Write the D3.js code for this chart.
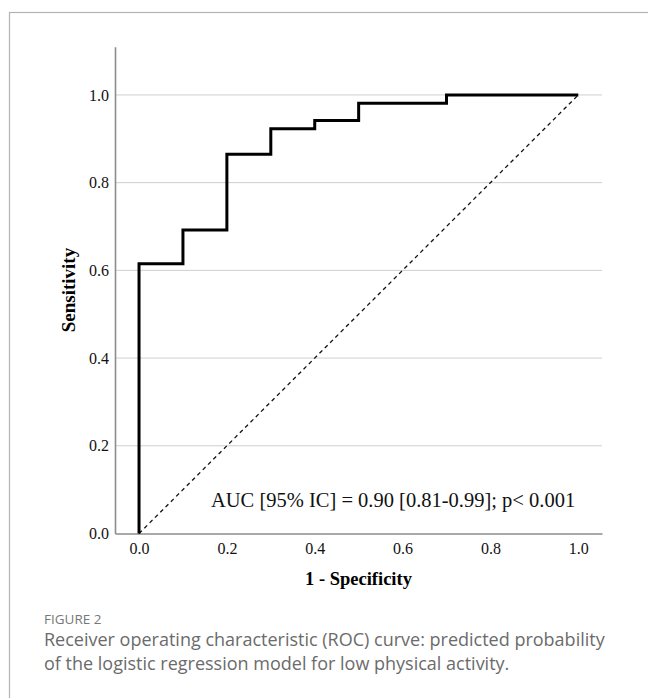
<!DOCTYPE html>
<html>
<head>
<meta charset="utf-8">
<script src="https://cdn.jsdelivr.net/npm/d3@7"></script>
<style>
  body { margin: 0; background: #fff; }
  svg { display: block; }
</style>
</head>
<body>
<div id="chart"></div>
<script>
// ROC curve points (1 - specificity, sensitivity)
const fpr = [0, 0, 0.1, 0.1, 0.2, 0.2, 0.3, 0.3, 0.4, 0.4, 0.5, 0.5, 0.7, 0.7, 1.0];
const tpr = [0, 0.615, 0.615, 0.692, 0.692, 0.865, 0.865, 0.923, 0.923, 0.942, 0.942, 0.981, 0.981, 1.0, 1.0];
const refLine = [0, 1];
const xTicks = [0, 0.2, 0.4, 0.6, 0.8, 1.0];
const yTicks = [0, 0.2, 0.4, 0.6, 0.8, 1.0];
const xTitle = "1 - Specificity";
const yTitle = "Sensitivity";
const aucText = "AUC [95% IC] = 0.90 [0.81-0.99]; p< 0.001";
const figLabel = "FIGURE 2";
const captionLines = [
  "Receiver operating characteristic (ROC) curve: predicted probability",
  "of the logistic regression model for low physical activity."
];

var width = 648;
var height = 698;

var svg = d3.select("#chart")
  .append("svg")
  .attr("width", width)
  .attr("height", height);

// outer frame of the figure panel
svg.append("rect")
  .attr("x", 9.5)
  .attr("y", 12.5)
  .attr("width", 700)
  .attr("height", 800)
  .attr("fill", "none")
  .attr("stroke", "#b3b3b3")
  .attr("stroke-width", 1.2);

// scales
var x = d3.scaleLinear().domain([-0.0547, 1.054]).range([115, 602]);
var y = d3.scaleLinear().domain([0, 1.11]).range([533.5, 46.7]);

// gridlines
svg.append("g")
  .selectAll("line")
  .data(yTicks.filter(d => d > 0))
  .join("line")
  .attr("x1", x.range()[0])
  .attr("x2", x.range()[1])
  .attr("y1", d => y(d))
  .attr("y2", d => y(d))
  .attr("stroke", "#cfcfcf")
  .attr("stroke-width", 1);

// axes
var xAxis = svg.append("g")
  .attr("transform", `translate(0,${y(0)})`)
  .call(d3.axisBottom(x).tickValues(xTicks).tickSize(0).tickPadding(9).tickFormat(d3.format(".1f")));

var yAxis = svg.append("g")
  .attr("transform", `translate(${x.range()[0]},0)`)
  .call(d3.axisLeft(y).tickValues(yTicks).tickSize(0).tickPadding(6).tickFormat(d3.format(".1f")));

[xAxis, yAxis].forEach(g => {
  g.select(".domain").attr("stroke", "#8c8c8c").attr("stroke-width", 1.6);
  g.selectAll("text")
    .attr("font-family", "'Liberation Serif', 'Times New Roman', serif")
    .attr("font-size", 16)
    .attr("fill", "#111");
});

// reference diagonal
svg.append("line")
  .attr("x1", x(refLine[0]))
  .attr("y1", y(refLine[0]))
  .attr("x2", x(refLine[1]))
  .attr("y2", y(refLine[1]))
  .attr("stroke", "#111")
  .attr("stroke-width", 1.3)
  .attr("stroke-dasharray", "4,3.5");

// ROC step curve
var line = d3.line()
  .x((d, i) => x(fpr[i]))
  .y((d, i) => y(tpr[i]));

svg.append("path")
  .datum(fpr)
  .attr("d", line)
  .attr("fill", "none")
  .attr("stroke", "#000")
  .attr("stroke-width", 3)
  .attr("stroke-linejoin", "miter");

// axis titles
svg.append("text")
  .attr("x", (x.range()[0] + x.range()[1]) / 2)
  .attr("y", 585)
  .attr("text-anchor", "middle")
  .attr("font-family", "'Liberation Serif', 'Times New Roman', serif")
  .attr("font-weight", "bold")
  .attr("font-size", 18.5)
  .text(xTitle);

svg.append("text")
  .attr("transform", `translate(75,${(y.range()[0] + y.range()[1]) / 2}) rotate(-90)`)
  .attr("text-anchor", "middle")
  .attr("font-family", "'Liberation Serif', 'Times New Roman', serif")
  .attr("font-weight", "bold")
  .attr("font-size", 19)
  .text(yTitle);

// AUC annotation
svg.append("text")
  .attr("x", 211)
  .attr("y", 507)
  .attr("font-family", "'Liberation Serif', 'Times New Roman', serif")
  .attr("font-size", 20.5)
  .attr("fill", "#111")
  .text(aucText);

// caption
svg.append("text")
  .attr("x", 44)
  .attr("y", 624)
  .attr("font-family", "'Open Sans', sans-serif")
  .attr("font-size", 13.5)
  .attr("fill", "#777")
  .text(figLabel);

svg.append("g")
  .selectAll("text")
  .data(captionLines)
  .join("text")
  .attr("x", 44)
  .attr("y", (d, i) => 646 + i * 24)
  .attr("font-family", "'Open Sans', sans-serif")
  .attr("font-size", 18)
  .attr("fill", "#6b6b6b")
  .text(d => d);
</script>
</body>
</html>
